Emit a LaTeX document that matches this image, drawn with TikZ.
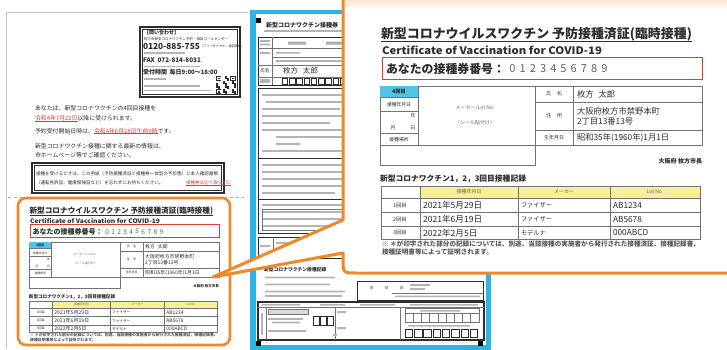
\documentclass[tikz,border=0pt]{standalone}
\usepackage{fontspec}
\usepackage{graphicx}
\setmainfont{Noto Sans CJK JP}
\definecolor{orng}{RGB}{240,135,40}
\definecolor{peach}{RGB}{251,226,205}
\definecolor{cyanb}{RGB}{45,180,225}
\definecolor{cellcyan}{RGB}{80,195,230}
\definecolor{ink}{RGB}{45,45,45}
\definecolor{rule}{RGB}{115,115,115}
\definecolor{yel}{RGB}{247,240,150}
\definecolor{redt}{RGB}{225,60,50}
\definecolor{smudge}{RGB}{180,180,180}
\newcommand\fsz[1]{\fontsize{#1}{#1}\selectfont}

\newcommand\certbody{%
  \node[anchor=south west] (title) at (381,41) {\resizebox{311pt}{!}{\bfseries 新型コロナウイルスワクチン 予防接種済証(臨時接種)}};
  \draw[ink, line width=1.2pt] ([yshift=-0.6pt]title.south west) -- ([yshift=-0.6pt]title.south east);
  \node[anchor=south west] (eng) at (382,55) {\resizebox{220pt}{8.6pt}{\bfseries Certificate of Vaccination for COVID-19}};
  \node[draw=redt, line width=0.9pt, minimum width=320pt, minimum height=22pt, anchor=north west] (idbox) at (382,57) {};
  \node[anchor=west] (idlab) at (386,68.5) {\resizebox{119pt}{!}{\bfseries あなたの接種券番号：}};
  \foreach \d [count=\i from 0] in {0,1,2,3,4,5,6,7,8,9}
    \node[font=\fsz{11}, text=gray!75!black] (dig\i) at ({512.5+\i*10.2},68.5) {\d};
  % left block
  \draw[rl] (380,86) rectangle (535,165);
  \draw[rl] (380,145) -- (535,145);
  \draw[rl] (418,86) -- (418,145);
  \fill[cellcyan] (380.4,86.4) rectangle (418,97);
  \draw[rl] (380,97) -- (418,97) (380,111) -- (418,111) (380,133) -- (418,133);
  \node[font=\fsz{5.2}\bfseries] (r4) at (399,91.8) {4回目};
  \node[font=\fsz{4.8}] (rdate) at (399,104.5) {接種年月日};
  \node[font=\fsz{4.8}] (ry) at (413,116) {年};
  \node[font=\fsz{4.8}] (rm) at (393,128) {月};
  \node[font=\fsz{4.8}] (rd) at (413,128) {日};
  \node[font=\fsz{4.8}] (rplace) at (399,139.3) {接種場所};
  \node[font=\fsz{5}, text=gray!80!black] (mk) at (475,108) {メーカー/Lot No.};
  \node[font=\fsz{5}, text=gray!80!black] (seal) at (475,123) {（シール貼付け）};
  % right block
  \draw[rl] (535,86) rectangle (702,145);
  \draw[rl] (573,86) -- (573,145) (535,102) -- (702,102) (535,130) -- (702,130);
  \node[font=\fsz{5}] (lname) at (554,94) {氏\hspace{6pt}名};
  \node[font=\fsz{5}] (laddr) at (554,116) {住\hspace{6pt}所};
  \node[font=\fsz{5}] (lbirth) at (554,137.5) {生年月日};
  \node[anchor=west, font=\fsz{8.3}] (vname) at (577,94) {枚方\hspace{5pt}太郎};
  \node[anchor=west, font=\fsz{8.3}] (vaddr1) at (577,111) {大阪府枚方市禁野本町};
  \node[anchor=west, font=\fsz{8.3}] (vaddr2) at (577,121.5) {2丁目13番13号};
  \node[anchor=west, font=\fsz{8.3}] (vbirth) at (577,137.5) {昭和35年(1960年)1月1日};
  \node[anchor=east, font=\fsz{6}\bfseries] (mayor) at (702,161) {大阪府 枚方市長};
  % record table
  \node[anchor=west] (sec) at (380,178.5) {\resizebox{146pt}{!}{\bfseries 新型コロナワクチン1，2，3回目接種記録}};
  \fill[yel] (420,186) rectangle (700,198);
  \draw[rl] (381,186) rectangle (700,239);
  \draw[rl] (381,198) -- (700,198) (381,212.5) -- (700,212.5) (381,226.5) -- (700,226.5)
            (420,186) -- (420,239) (518,186) -- (518,239) (610,186) -- (610,239);
  \node[font=\fsz{5}, text=gray!80!black] (hdate) at (469,192) {接種年月日};
  \node[font=\fsz{5}, text=gray!80!black] (hmaker) at (564,192) {メーカー};
  \node[font=\fsz{5}, text=gray!80!black] (hlot) at (655,192) {Lot No.};
  \foreach \yy/\n/\dt/\mk/\lt in {205.3/1/2021年5月29日/ファイザー/AB1234, 219.5/2/2021年6月19日/ファイザー/AB5678, 232.8/3/2022年2月5日/モデルナ/000ABCD}{
    \node[font=\fsz{5.3}] (no\n) at (400,\yy) {\n 回目};
    \node[anchor=west, font=\fsz{8.6}] (dt\n) at (423,\yy) {\dt};
    \node[anchor=west, font=\fsz{6.2}] (mk\n) at (521,\yy) {\mk};
    \node[anchor=west, font=\fsz{8.3}] (lt\n) at (613,\yy) {\lt};
  }
  \node[anchor=west, text=gray!70!black] (fn1) at (382,243.5) {\resizebox{318pt}{!}{\bfseries ※ ＊が印字された部分の記録については、別途、当該接種の実施者から発行された接種済証、接種記録書、}};
  \node[anchor=west, font=\fsz{6.6}\bfseries, text=gray!70!black] (fn2) at (382,251.5) {接種証明書等によって証明されます。};
}

\begin{document}
\begin{tikzpicture}[x=1pt, y=-1pt,
  every node/.style={inner sep=0pt, outer sep=0pt, text=ink},
  tl/.style={anchor=west},
  rl/.style={draw=rule, line width=0.7pt},
  frm/.style={draw=ink, line width=0.8pt},
  thin/.style={draw=rule, line width=0.5pt}]
\useasboundingbox (0,0) rectangle (727,349);
\fill[white] (0,0) rectangle (727,349);

% ---------------- left page ----------------
\draw[gray!45, line width=0.8pt] (6,349) -- (6,12) -- (248,12);
% contact box
\draw[ink, line width=1.5pt] (140,27) rectangle (240,97);
\draw[ink, line width=0.4pt] (142.5,29.5) rectangle (237.5,94.5);
\node[tl, font=\fsz{5}\bfseries] (c1) at (144,33) {【問い合わせ】};
\node[tl, font=\fsz{3.5}] (c2) at (144,39) {枚方市新型コロナワクチン予約・相談コールセンター};
\node[tl, font=\fsz{8.3}\bfseries] (c3) at (143,46.5) {0120-885-755};
\node[tl, font=\fsz{3.2}] (c3b) at (c3.east) {（フリーダイヤル・通話無料）};
\fill[smudge] (144,52) rectangle (185,53.5);
\node[tl, font=\fsz{6.3}\bfseries] (c4) at (143,60) {FAX\ \ 072-814-8031};
\fill[smudge] (144,65.5) rectangle (200,67);
\node[tl, font=\fsz{6}\bfseries] (c5) at (143,72.5) {受付時間\ \ 毎日9:00～18:00};
\fill[smudge] (144,78) rectangle (166,79.5);
\fill[smudge] (144,85) rectangle (200,86.5);
\fill[smudge] (144,89.5) rectangle (211,91);
% QR code
\foreach \i in {0,...,10}{\foreach \j in {0,...,10}{
  \pgfmathtruncatemacro\v{mod(\i*\i*3+\j*5+\i*\j*7+\j*\j,5)}
  \ifnum\v<2 \fill[ink] ({216+\i*1.8},{76+\j*1.65}) rectangle ++(1.8,1.65);\fi}}
\foreach \px/\py in {216/76, 230.4/76, 216/89.2}{
  \fill[ink] (\px,\py) rectangle ++(5.4,5);
  \fill[white] ({\px+0.9},{\py+0.9}) rectangle ++(3.6,3.2);
  \fill[ink] ({\px+1.8},{\py+1.7}) rectangle ++(1.8,1.6);}
% main text
\node[tl, font=\fsz{5.9}] (l1) at (35,108) {あなたは、新型コロナワクチンの4回目接種を};
\node[tl, font=\fsz{5.9}, text=redt] (l2a) at (35,118.5) {令和4年7月22日};
\node[tl, font=\fsz{5.9}] (l2b) at (l2a.east) {以降に受けられます。};
\draw[redt, line width=0.5pt] (l2a.south west) -- (l2a.south east);
\node[tl, font=\fsz{5.9}] (l3a) at (35,131) {予約受付開始日時は、};
\node[tl, font=\fsz{5.9}, text=redt] (l3b) at (l3a.east) {令和4年6月28日午前9時};
\node[tl, font=\fsz{5.9}] (l3c) at (l3b.east) {です。};
\draw[redt, line width=0.5pt] (l3b.south west) -- (l3b.south east);
\node[tl, font=\fsz{5.9}] (l4) at (35,146) {新型コロナワクチン接種に関する最新の情報は、};
\node[tl, font=\fsz{5.9}] (l5) at (35,155.5) {市ホームページ等でご確認ください。};
% notice box
\draw[ink, line width=1.4pt] (32,163) rectangle (224,193);
\draw[ink, line width=0.4pt] (34.5,165.5) rectangle (221.5,190.5);
\node[tl, font=\fsz{4.55}] (n1) at (36,174) {接種を受けるときは、この用紙（予防接種済証と接種券一体型の予診票）と本人確認書類};
\node[tl, font=\fsz{4.55}] (n2a) at (36,183) {（運転免許証、健康保険証など）を忘れずにお持ちください。};
\node[tl, font=\fsz{4.55}, text=redt] (n2b) at (186,183) {接種券は切り取らずに};
\draw[redt, line width=0.4pt] (n2b.south west) -- (n2b.south east);
\draw[redt!55, dashed, line width=0.4pt] (8,197) -- (30,197) (206,197) -- (244,197);
% small orange box
\draw[orng, line width=2.6pt, rounded corners=8pt, fill=white] (18,198) rectangle (230,345);
\begin{scope}[shift={(-195.2,191.3)}, scale=0.59, transform shape, name prefix=s-]
  \certbody
\end{scope}

% ---------------- right page ----------------
\fill[cyanb] (249.5,9.5) rectangle (491,352);
\fill[white] (255.5,13.5) rectangle (485.5,345);
\fill[black] (255.5,17.5) rectangle ++(5.5,5.5);
\fill[black] (255.5,340.5) rectangle ++(5.5,5.5);
\fill[black] (477.5,340.5) rectangle ++(5.5,5.5);
\node[tl, font=\fsz{6}\bfseries] (rptitle) at (266,25.5) {新型コロナワクチン接種券};
\fill[smudge] (264,30.2) rectangle (345,31.8);
% upper table
\draw[frm] (258,37) rectangle (484,85);
\draw[thin] (258,48) -- (484,48) (272,57) -- (484,57) (258,65) -- (484,65) (258,77) -- (484,77) (272,37) -- (272,85);
\fill[smudge] (260,40) rectangle (270,41.8) (260,43.5) rectangle (270,45.3);
\fill[gray!65] (288,41.5) rectangle (306,44.5) (326,41.5) rectangle (342,44.5);
\fill[smudge] (260,52) rectangle (270,54) (276,52) rectangle (300,53.5);
\fill[gray!60] (276,59.5) rectangle (345,62);
\node[tl, font=\fsz{4.8}] (rpnm0) at (260,71) {氏名};
\node[tl, font=\fsz{7.5}] (rpnm) at (283,71) {枚方\hspace{5pt}太郎};
\fill[smudge] (260,79) rectangle (270,83);
\foreach \k in {0,...,8} \draw[ink, line width=0.7pt] ({282+\k*7.3},78.3) rectangle ++(5.6,5.6);
% main box
\draw[ink, line width=1pt] (258,88) rectangle (484,233);
\foreach \yy/\xs/\xe in {94/262/345, 101/266/345, 108/262/340, 115/262/345, 122/262/330, 129/262/345, 136/276/345, 143/276/300, 150/262/345,
  164/262/345, 171/262/345, 178/262/345, 185/262/345, 192/262/335,
  204/262/345, 211/262/345, 218/262/345, 225/262/335}
  \fill[smudge] (\xs,\yy) rectangle (\xe,{\yy+2.2});
\draw[ink, line width=0.8pt] (258,158) -- (484,158) (258,199) -- (484,199);
\draw[thin] (262,209) rectangle (344,230);
% entries row
\draw[frm] (258,237) rectangle (484,258);
\draw[thin] (273,237) -- (273,258) (305,237) -- (305,258);
\fill[smudge] (260,245) rectangle (270,247) (276,242) rectangle (300,244) (310,242) rectangle (345,244) (276,250) rectangle (295,252);
% lower visible part
\node[tl, font=\fsz{4.8}\bfseries] (rpsec) at (264,270) {新型コロナワクチン接種記録};
\fill[smudge] (265,276.5) rectangle (335,278.3) (265,283.5) rectangle (330,285.3) (265,290.5) rectangle (345,292.3) (265,295) rectangle (342,296.8);
\draw[frm] (357,281) rectangle (483,300);
\draw[thin] (392,293) -- (483,293);
\fill[gray!60] (370,286) rectangle (373,289) (385,286) rectangle (388,289) (400,286) rectangle (403,289);
\fill[smudge] (410,284) rectangle (430,286) (410,288) rectangle (425,290) (395,295.5) rectangle (480,297);
\draw[ink, line width=1.1pt] (258,302) rectangle (484,340);
\fill[smudge] (262,304) rectangle (300,305.5) (320,304) rectangle (345,305.5) (360,304) rectangle (395,305.5) (410,304) rectangle (478,305.5);
\draw[thin] (258,307) -- (484,307);
\draw[thin] (266,307) -- (266,340) (335,307) -- (335,340) (400,307) -- (400,340);
\fill[smudge] (261,313) rectangle (263,335);
\fill[gray!30] (268,309.5) rectangle (308,314);
\draw[thin] (268,309.5) rectangle (308,314);
\foreach \k in {0,1,2} \draw[ink, line width=0.8pt] ({313+\k*7},316) rectangle ++(6,9);
\fill[smudge] (268,318) rectangle (303,319.8) (272,321.5) rectangle (300,323.3) (268,330) rectangle (306,331.8);
\fill[smudge] (337,311) rectangle (346,313) (337,327) rectangle (346,329) (333,334) rectangle (337,336);
\draw[thin] (405,308) rectangle (479,313) (405,313) rectangle (479,322);
\foreach \k in {1,...,8} \draw[thin] ({405+\k*8.2},313) -- ({405+\k*8.2},322);
\fill[smudge] (420,310) rectangle (460,311.5) (408,325) rectangle (470,326.5);
\foreach \k in {0,...,7} \draw[ink, line width=0.6pt] ({405+\k*9.3},329) rectangle ++(7.5,8);

% ---------------- callout ----------------
\path[fill=white] (760,-6) -- (357,-6) .. controls (343,-6) .. (343,8) -- (343,220) -- (213,277) -- (343,253) -- (343,259) .. controls (343,273) .. (357,273) -- (760,273) -- cycle;
\shade[top color=peach, bottom color=white] (345,-1) rectangle (727,9);
\draw[orng, line width=3pt, line join=round] (760,-6) -- (357,-6) .. controls (343,-6) .. (343,8) -- (343,220) -- (213,277) -- (343,253) -- (343,259) .. controls (343,273) .. (357,273) -- (760,273);
\begin{scope}[name prefix=b-]
  \certbody
\end{scope}
\end{tikzpicture}
\end{document}
